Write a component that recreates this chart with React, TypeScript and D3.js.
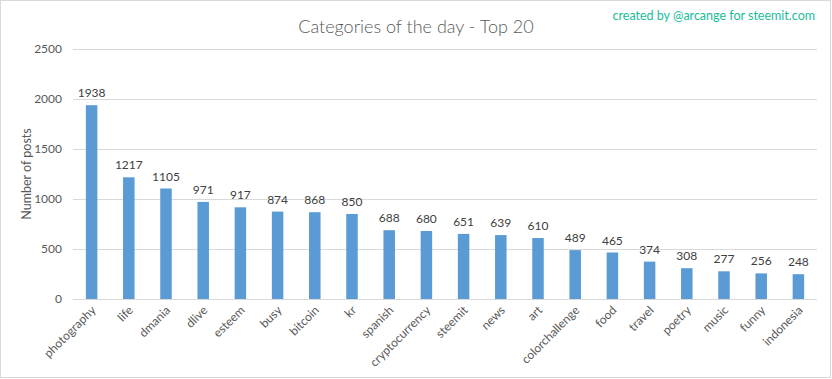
import React from "react";
import * as d3 from "d3";

const categories = ["photography","life","dmania","dlive","esteem","busy","bitcoin","kr","spanish","cryptocurrency","steemit","news","art","colorchallenge","food","travel","poetry","music","funny","indonesia"];
const posts = [1938,1217,1105,971,917,874,868,850,688,680,651,639,610,489,465,374,308,277,256,248];
const yTicks = [0,500,1000,1500,2000,2500];

const W = 832, H = 379;
const left = 73, right = 817, top = 49, bottom = 299;
const font = "Lato, 'Open Sans', sans-serif";

export default function App() {
  const y = d3.scaleLinear().domain([0, 2500]).range([bottom, top]);
  const band = d3.scaleBand<string>().domain(categories).range([left, right]);
  return (
    <svg width={W} height={H} style={{ position: "absolute", left: 0, top: 0, background: "#fff" }}>
      <rect x={0.5} y={0.5} width={830} height={377} fill="#fff" stroke="#d9d9d9" />
      {yTicks.map(t => (
        <g key={t}>
          <line x1={left} x2={right} y1={y(t) + 0.5} y2={y(t) + 0.5} stroke="#d9d9d9" />
          <text x={62} y={y(t)} dy="0.35em" textAnchor="end" fontSize={12} fill="#595959" fontFamily={font}>{t}</text>
        </g>
      ))}
      {categories.map((c, i) => {
        const cx = band(c)! + band.bandwidth() / 2;
        const bw = 11.5;
        return (
          <g key={c}>
            <rect x={cx - bw / 2} y={y(posts[i])} width={bw} height={bottom - y(posts[i])} fill="#5b9bd5" />
            <text x={cx} y={y(posts[i]) - 8} textAnchor="middle" fontSize={12} fill="#404040" fontFamily={font}>{posts[i]}</text>
            <text transform={`translate(${cx + 2},${bottom + 9}) rotate(-45)`} textAnchor="end" dy="0.35em" fontSize={12} fill="#595959" fontFamily={font}>{c}</text>
          </g>
        );
      })}
      <text transform={`translate(31,${(top + bottom) / 2}) rotate(-90)`} textAnchor="middle" fontSize={12.5} fill="#595959" fontFamily={font}>Number  of posts</text>
      <text x={416} y={33} textAnchor="middle" fontSize={18} fill="#595959" fontFamily={font} fontWeight={300}>Categories of the day - Top 20</text>
      <text x={815} y={20} textAnchor="end" fontSize={12.5} fill="#1abc9c" fontFamily={font}>created by @arcange for steemit.com</text>
    </svg>
  );
}
